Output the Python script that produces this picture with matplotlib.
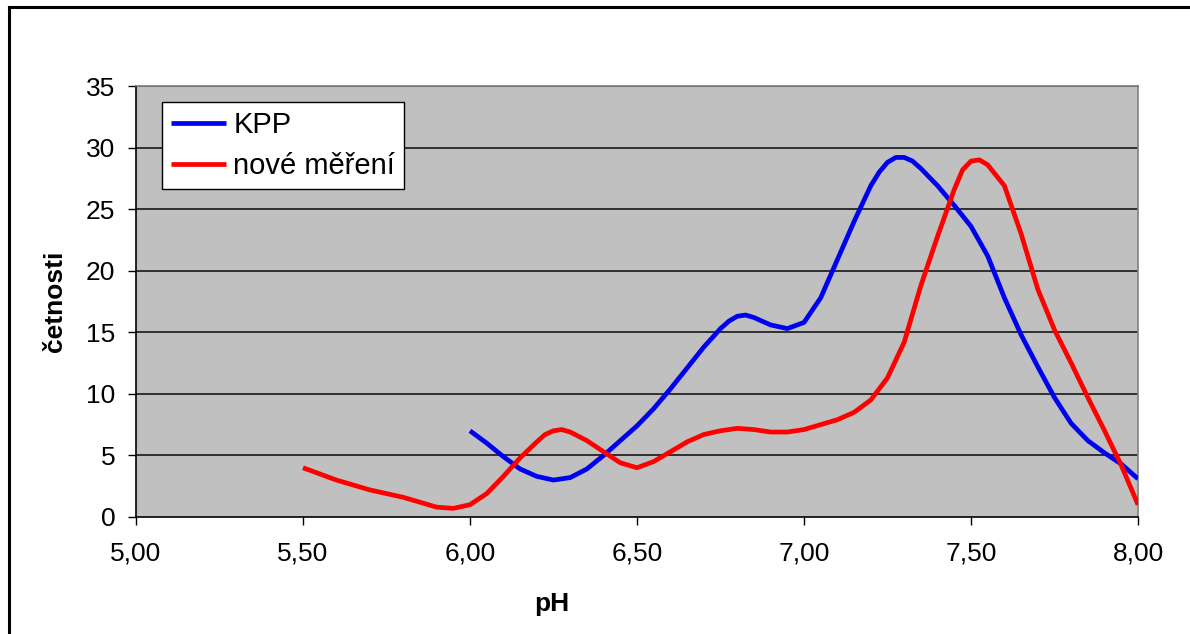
# -*- coding: utf-8 -*-
import matplotlib
matplotlib.use("Agg")
import matplotlib.pyplot as plt
from matplotlib.lines import Line2D

# KPP
ph_kpp = [6.00, 6.05, 6.10, 6.15, 6.20, 6.25, 6.30, 6.35, 6.40, 6.45, 6.50,
          6.55, 6.60, 6.65, 6.70, 6.75, 6.775, 6.80, 6.825, 6.85, 6.90, 6.95, 7.00,
          7.05, 7.10, 7.15, 7.20, 7.225, 7.25, 7.275, 7.30, 7.325, 7.35, 7.40, 7.45, 7.50,
          7.55, 7.60, 7.65, 7.70, 7.75, 7.80, 7.85, 7.90, 7.95, 8.00]
kpp = [7.0, 6.0, 4.9, 3.9, 3.3, 3.0, 3.2, 3.9, 5.0, 6.2, 7.4,
       8.8, 10.4, 12.1, 13.8, 15.3, 15.9, 16.3, 16.4, 16.2, 15.6, 15.3, 15.8,
       17.8, 20.9, 24.0, 26.9, 28.0, 28.8, 29.2, 29.2, 28.9, 28.3, 26.9, 25.3, 23.6,
       21.2, 17.8, 14.8, 12.2, 9.7, 7.6, 6.2, 5.2, 4.3, 3.1]

# nove mereni
ph_nove = [5.50, 5.55, 5.60, 5.65, 5.70, 5.75, 5.80, 5.85, 5.90, 5.95, 6.00,
           6.05, 6.10, 6.15, 6.20, 6.225, 6.25, 6.275, 6.30, 6.35, 6.40, 6.45, 6.50,
           6.55, 6.60, 6.65, 6.70, 6.75, 6.80, 6.85, 6.90, 6.95, 7.00,
           7.05, 7.10, 7.15, 7.20, 7.25, 7.30, 7.35, 7.40, 7.45, 7.475, 7.50,
           7.525, 7.55, 7.60, 7.65, 7.70, 7.75, 7.80, 7.85, 7.90, 7.95, 8.00]
nove = [4.0, 3.5, 3.0, 2.6, 2.2, 1.9, 1.6, 1.2, 0.8, 0.7, 1.0,
        1.9, 3.3, 4.8, 6.1, 6.7, 7.0, 7.1, 6.9, 6.2, 5.3, 4.4, 4.0,
        4.5, 5.3, 6.1, 6.7, 7.0, 7.2, 7.1, 6.9, 6.9, 7.1,
        7.5, 7.9, 8.5, 9.5, 11.3, 14.2, 18.8, 22.8, 26.6, 28.2, 28.9,
        29.0, 28.6, 26.9, 23.0, 18.5, 15.2, 12.5, 9.7, 7.0, 4.2, 1.0]

xticks = [5.0, 5.5, 6.0, 6.5, 7.0, 7.5, 8.0]
xticklabels = ["5,00", "5,50", "6,00", "6,50", "7,00", "7,50", "8,00"]
yticks = [0, 5, 10, 15, 20, 25, 30, 35]

plt.rcParams['font.family'] = ['Liberation Sans', 'DejaVu Sans']

W, H = 1190, 634
fig = plt.figure(figsize=(W / 100, H / 100), dpi=100)
ax = fig.add_axes([136 / W, 1 - 517 / H, (1138 - 136) / W, (517 - 86) / H])
ax.set_facecolor('#C0C0C0')

for y in yticks[1:]:
    ax.axhline(y, color='#303030', lw=1.4, zorder=1)

ax.plot(ph_kpp, kpp, color='#0000F0', lw=3.4, solid_capstyle='butt',
        solid_joinstyle='round', label='KPP', zorder=3)
ax.plot(ph_nove, nove, color='#FF0000', lw=3.4, solid_capstyle='butt',
        solid_joinstyle='round', label='nové měření', zorder=3)

ax.set_xlim(5, 8)
ax.set_ylim(0, 35)
ax.set_xticks(xticks)
ax.set_xticklabels(xticklabels)
ax.set_yticks(yticks)
ax.tick_params(axis='both', direction='out', length=6, width=1,
               labelsize=19, colors='black')
ax.tick_params(axis='y', pad=9)
ax.tick_params(axis='x', pad=12)

ax.spines['left'].set_color('black')
ax.spines['bottom'].set_color('black')
ax.spines['top'].set_color('#808080')
ax.spines['right'].set_color('#808080')
for s in ax.spines.values():
    s.set_linewidth(1.2)

leg = ax.legend(loc='upper left', bbox_to_anchor=(162 / W, 1 - 102 / H),
                bbox_transform=fig.transFigure, fontsize=21, frameon=True,
                fancybox=False, framealpha=1, edgecolor='black',
                handlelength=1.9, handletextpad=0.25, borderpad=0.3,
                labelspacing=0.45, borderaxespad=0)
leg.get_frame().set_linewidth(1.0)
for h in leg.get_lines():
    h.set_linewidth(3.4)

fig.text(552 / W, 1 - 604 / H, 'pH', fontsize=19, fontweight='bold',
         ha='center', va='center')
fig.text(55 / W, 1 - 301 / H, 'četnosti', fontsize=19, fontweight='bold',
         ha='center', va='center', rotation=90)

# outer frame (only top and left visible)
fig.add_artist(Line2D([9 / W, 9 / W], [0, 1 - 7 / H], color='black', lw=2.2,
                      transform=fig.transFigure))
fig.add_artist(Line2D([9 / W, 1], [1 - 7 / H, 1 - 7 / H], color='black', lw=2.2,
                      transform=fig.transFigure))

fig.savefig('out.png', dpi=100)
